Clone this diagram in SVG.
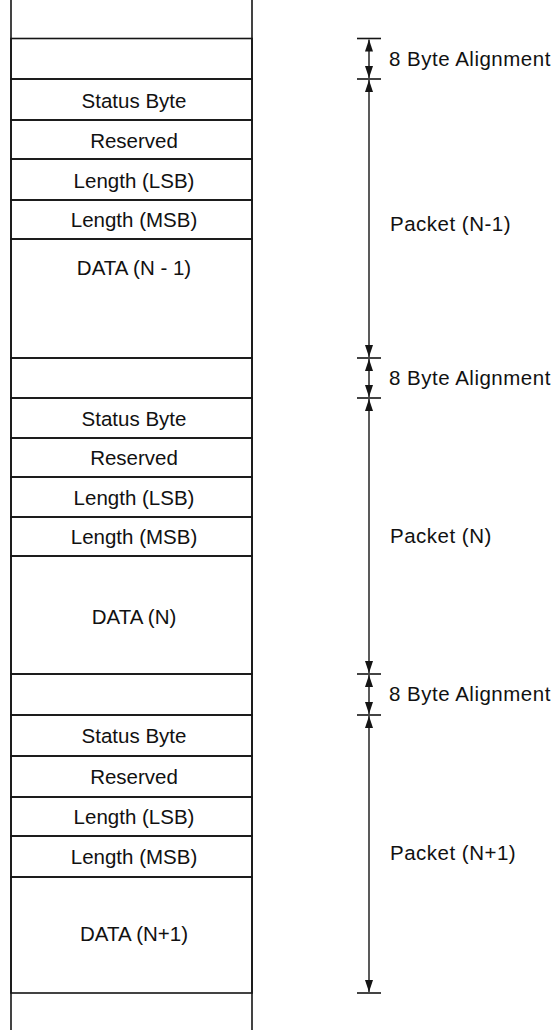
<svg xmlns="http://www.w3.org/2000/svg" width="553" height="1030" viewBox="0 0 553 1030">
<style>
.bg{fill:#fff}
.row{fill:none;stroke:#151515;stroke-width:1.6}
.frame{stroke:#151515;stroke-width:1.6;fill:none}
.lbl{font-family:"Liberation Sans",Arial,sans-serif;font-size:20.5px;fill:#111;text-anchor:middle}
.dlbl{font-family:"Liberation Sans",Arial,sans-serif;font-size:20.5px;fill:#111;text-anchor:start;letter-spacing:0.5px}
.tick{stroke:#151515;stroke-width:1.6}
.dim{stroke:#151515;stroke-width:1.4;fill:none;marker-start:url(#ah);marker-end:url(#ah)}
</style>
<defs>
<marker id="ah" viewBox="0 0 12 8" refX="12" refY="4" markerWidth="12" markerHeight="8" markerUnits="userSpaceOnUse" orient="auto-start-reverse">
<path d="M0,0 L12,4 L0,8 z" fill="#151515"/>
</marker>
</defs>
<rect class="bg" x="0" y="0" width="553" height="1030"/>
<g id="column">
<line class="frame" x1="11" y1="0" x2="11" y2="1030"/>
<line class="frame" x1="252" y1="0" x2="252" y2="1030"/>
</g>
<g id="align1"><rect class="row" x="11" y="38.5" width="241" height="40.5"/></g>
<g id="status1"><rect class="row" x="11" y="79" width="241" height="41"/><text class="lbl" x="134" y="108">Status Byte</text></g>
<g id="reserved1"><rect class="row" x="11" y="120" width="241" height="39"/><text class="lbl" x="134" y="148">Reserved</text></g>
<g id="lsb1"><rect class="row" x="11" y="159" width="241" height="41"/><text class="lbl" x="134" y="188">Length (LSB)</text></g>
<g id="msb1"><rect class="row" x="11" y="200" width="241" height="39"/><text class="lbl" x="134" y="227">Length (MSB)</text></g>
<g id="data1"><rect class="row" x="11" y="239" width="241" height="119"/><text class="lbl" x="134" y="275">DATA (N - 1)</text></g>
<g id="align2"><rect class="row" x="11" y="358" width="241" height="40"/></g>
<g id="status2"><rect class="row" x="11" y="398" width="241" height="40"/><text class="lbl" x="134" y="426">Status Byte</text></g>
<g id="reserved2"><rect class="row" x="11" y="438" width="241" height="39"/><text class="lbl" x="134" y="465">Reserved</text></g>
<g id="lsb2"><rect class="row" x="11" y="477" width="241" height="40"/><text class="lbl" x="134" y="505">Length (LSB)</text></g>
<g id="msb2"><rect class="row" x="11" y="517" width="241" height="39"/><text class="lbl" x="134" y="544">Length (MSB)</text></g>
<g id="data2"><rect class="row" x="11" y="556" width="241" height="118"/><text class="lbl" x="134" y="624">DATA (N)</text></g>
<g id="align3"><rect class="row" x="11" y="674" width="241" height="41"/></g>
<g id="status3"><rect class="row" x="11" y="715" width="241" height="41"/><text class="lbl" x="134" y="743">Status Byte</text></g>
<g id="reserved3"><rect class="row" x="11" y="756" width="241" height="41"/><text class="lbl" x="134" y="784">Reserved</text></g>
<g id="lsb3"><rect class="row" x="11" y="797" width="241" height="39"/><text class="lbl" x="134" y="824">Length (LSB)</text></g>
<g id="msb3"><rect class="row" x="11" y="836" width="241" height="41"/><text class="lbl" x="134" y="864">Length (MSB)</text></g>
<g id="data3"><rect class="row" x="11" y="877" width="241" height="116"/><text class="lbl" x="134" y="941">DATA (N+1)</text></g>
<g id="connectors">
<line class="tick" x1="357" y1="38.5" x2="381" y2="38.5"/>
<line class="tick" x1="357" y1="79" x2="381" y2="79"/>
<line class="tick" x1="357" y1="358" x2="381" y2="358"/>
<line class="tick" x1="357" y1="398" x2="381" y2="398"/>
<line class="tick" x1="357" y1="674" x2="381" y2="674"/>
<line class="tick" x1="357" y1="715" x2="381" y2="715"/>
<line class="tick" x1="357" y1="993" x2="381" y2="993"/>
<line class="dim" x1="369" y1="39.5" x2="369" y2="78"/>
<line class="dim" x1="369" y1="80" x2="369" y2="357"/>
<line class="dim" x1="369" y1="359" x2="369" y2="397"/>
<line class="dim" x1="369" y1="399" x2="369" y2="673"/>
<line class="dim" x1="369" y1="675" x2="369" y2="714"/>
<line class="dim" x1="369" y1="716" x2="369" y2="992"/>
</g>
<g id="dim-labels">
<text class="dlbl" x="389" y="66">8 Byte Alignment</text>
<text class="dlbl" x="390" y="231">Packet (N-1)</text>
<text class="dlbl" x="389" y="385">8 Byte Alignment</text>
<text class="dlbl" x="390" y="543">Packet (N)</text>
<text class="dlbl" x="389" y="701">8 Byte Alignment</text>
<text class="dlbl" x="390" y="860">Packet (N+1)</text>
</g>
</svg>
